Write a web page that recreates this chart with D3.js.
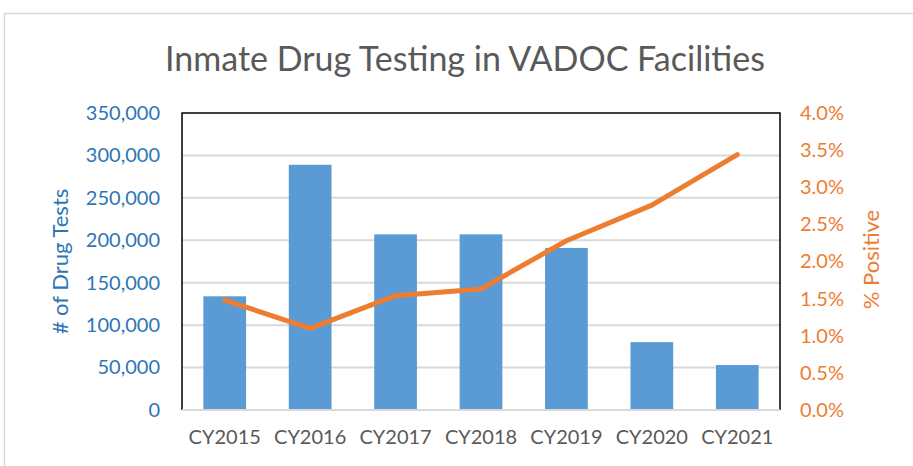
<!DOCTYPE html>
<html>
<head>
<meta charset="utf-8">
<script src="https://cdn.jsdelivr.net/npm/d3@7"></script>
<style>
  body { margin: 0; background: #fff; }
  text { font-family: Lato, "Open Sans", sans-serif; }
</style>
</head>
<body>
<div id="chart"></div>
<script>
const categories = ['CY2015', 'CY2016', 'CY2017', 'CY2018', 'CY2019', 'CY2020', 'CY2021'];
const drugTests = [134000, 289000, 207000, 207000, 191000, 80000, 53000];
const pctPositive = [0.0148, 0.0110, 0.0154, 0.0163, 0.0228, 0.0276, 0.0344];
const leftTicks = [0, 50000, 100000, 150000, 200000, 250000, 300000, 350000];
const rightTicks = [0, 0.005, 0.01, 0.015, 0.02, 0.025, 0.03, 0.035, 0.04];

const width = 913, height = 466;
const margin = { top: 113, right: 133, bottom: 56, left: 182 };
const plotW = width - margin.left - margin.right;
const plotH = height - margin.top - margin.bottom;

const svg = d3.select('#chart').append('svg')
  .attr('width', width)
  .attr('height', height);

// outer chart border
svg.append('rect')
  .attr('x', 4.5).attr('y', 13.5)
  .attr('width', 920).attr('height', 470)
  .attr('fill', '#fff')
  .attr('stroke', '#d9d9d9')
  .attr('stroke-width', 1.5);

svg.append('text')
  .attr('x', 465).attr('y', 71)
  .attr('text-anchor', 'middle')
  .attr('font-size', 34)
  .attr('fill', '#595959')
  .text('Inmate Drug Testing in VADOC Facilities');

const g = svg.append('g').attr('transform', `translate(${margin.left},${margin.top})`);

const x = d3.scaleBand().domain(categories).range([0, plotW]).paddingInner(0.5).paddingOuter(0.25);
const yL = d3.scaleLinear().domain([0, 350000]).range([plotH, 0]);
const yR = d3.scaleLinear().domain([0, 0.04]).range([plotH, 0]);

// gridlines
g.selectAll('.grid')
  .data(leftTicks.slice(1, -1))
  .enter()
  .append('line')
  .attr('class', 'grid')
  .attr('x1', 0).attr('x2', plotW)
  .attr('y1', d => yL(d)).attr('y2', d => yL(d))
  .attr('stroke', '#d9d9d9')
  .attr('stroke-width', 2);

// bars
g.selectAll('.bar')
  .data(drugTests)
  .enter()
  .append('rect')
  .attr('class', 'bar')
  .attr('x', (d, i) => x(categories[i]))
  .attr('y', d => yL(d))
  .attr('width', x.bandwidth())
  .attr('height', d => plotH - yL(d))
  .attr('fill', '#5b9bd5');

// line
const line = d3.line()
  .x((d, i) => x(categories[i]) + x.bandwidth() / 2)
  .y(d => yR(d));

g.append('path')
  .datum(pctPositive)
  .attr('d', line)
  .attr('fill', 'none')
  .attr('stroke', '#ed7d31')
  .attr('stroke-width', 5)
  .attr('stroke-linecap', 'round')
  .attr('stroke-linejoin', 'round');

// plot frame: black on left/top/right, gray bottom axis
g.append('path')
  .attr('d', `M0,${plotH} V0 H${plotW} V${plotH}`)
  .attr('fill', 'none')
  .attr('stroke', '#000')
  .attr('stroke-width', 1.5);
g.append('line')
  .attr('x1', 0).attr('x2', plotW)
  .attr('y1', plotH).attr('y2', plotH)
  .attr('stroke', '#d9d9d9')
  .attr('stroke-width', 2);

// left axis
const leftAxis = g.append('g')
  .call(d3.axisLeft(yL).tickValues(leftTicks).tickFormat(d3.format(',')).tickSize(0).tickPadding(22));
leftAxis.select('.domain').remove();
leftAxis.selectAll('text')
  .attr('font-size', 20)
  .attr('fill', '#2e75b6')
  .style('font-family', 'Lato, "Open Sans", sans-serif');

// right axis
const rightAxis = g.append('g')
  .attr('transform', `translate(${plotW},0)`)
  .call(d3.axisRight(yR).tickValues(rightTicks).tickFormat(d3.format('.1%')).tickSize(0).tickPadding(20));
rightAxis.select('.domain').remove();
rightAxis.selectAll('text')
  .attr('font-size', 20)
  .attr('fill', '#ed7d31')
  .style('font-family', 'Lato, "Open Sans", sans-serif');

// x axis labels
const xAxis = g.append('g')
  .attr('transform', `translate(0,${plotH})`)
  .call(d3.axisBottom(x).tickSize(0).tickPadding(20));
xAxis.select('.domain').remove();
xAxis.selectAll('text')
  .attr('font-size', 20)
  .attr('fill', '#595959')
  .style('font-family', 'Lato, "Open Sans", sans-serif');

// axis titles
svg.append('text')
  .attr('transform', `translate(68,${margin.top + plotH / 2}) rotate(-90)`)
  .attr('text-anchor', 'middle')
  .attr('font-size', 22)
  .attr('fill', '#2e75b6')
  .text('# of Drug Tests');

svg.append('text')
  .attr('transform', `translate(879,${margin.top + plotH / 2 - 2}) rotate(-90)`)
  .attr('text-anchor', 'middle')
  .attr('font-size', 22)
  .attr('fill', '#ed7d31')
  .text('% Positive');
</script>
</body>
</html>
